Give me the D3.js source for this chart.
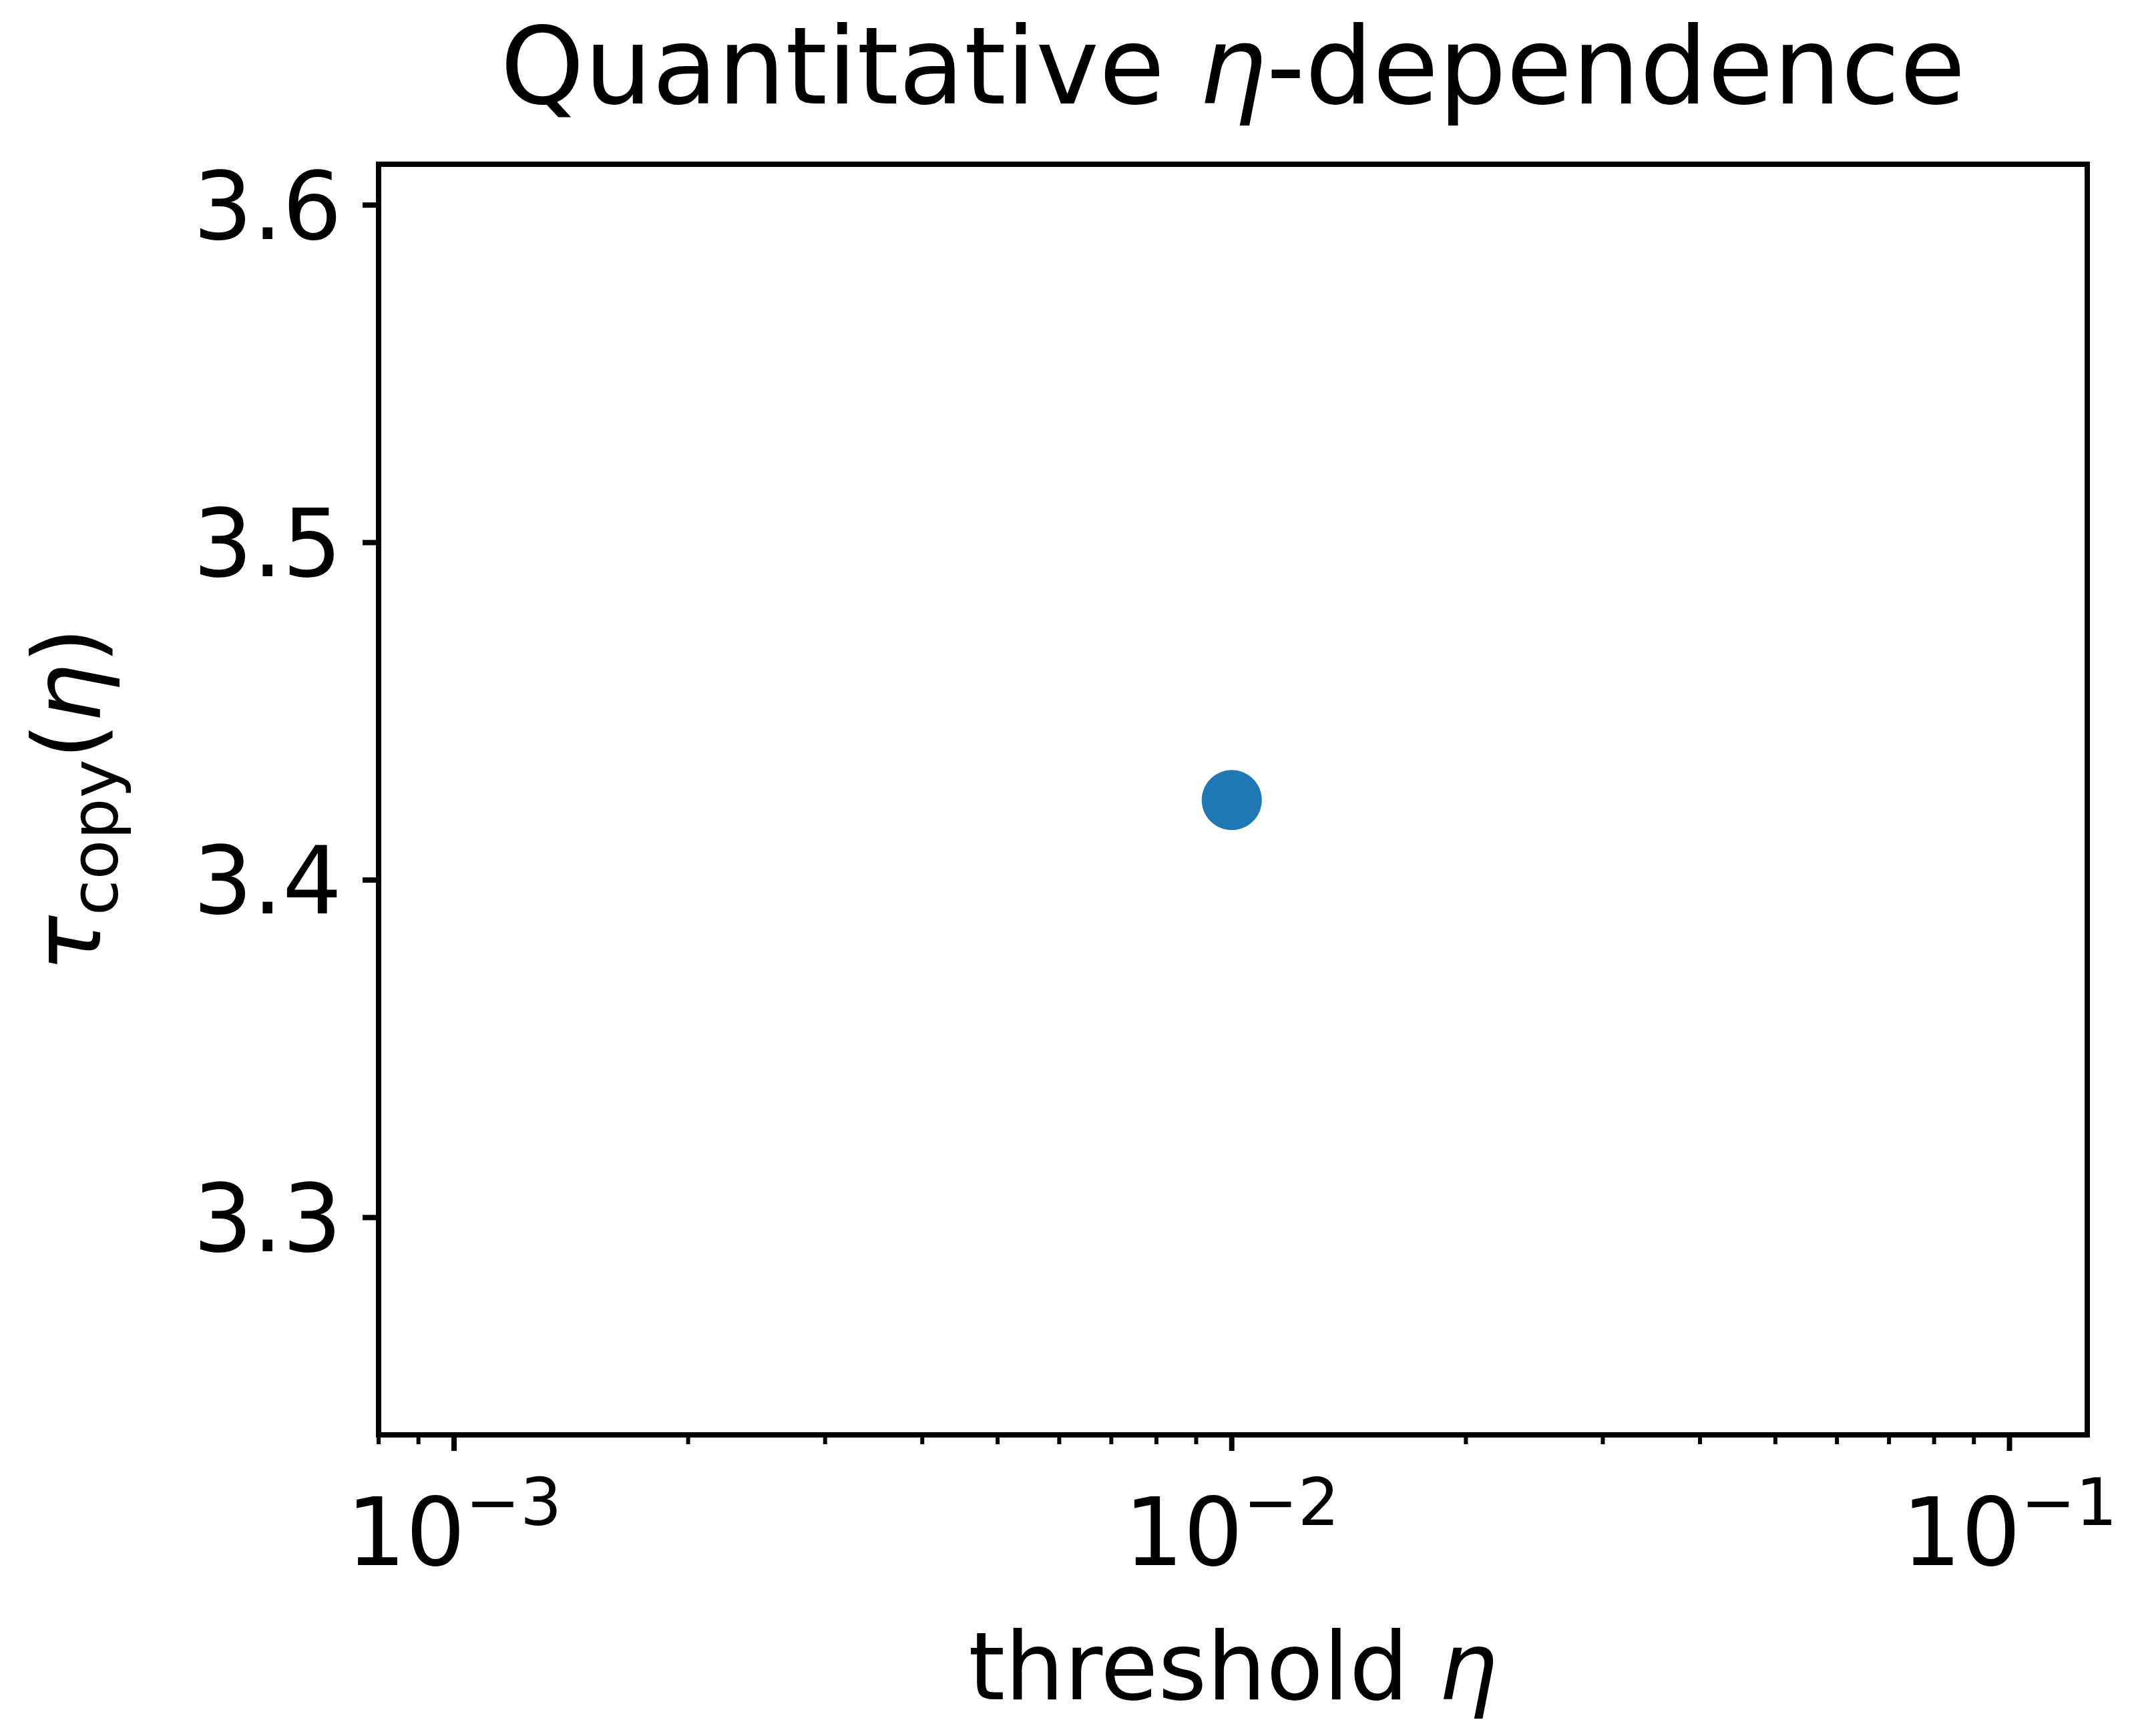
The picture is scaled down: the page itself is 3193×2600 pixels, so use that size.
<!DOCTYPE html>
<html>
<head>
<meta charset="utf-8">
<script src="https://cdn.jsdelivr.net/npm/d3@7"></script>
<style>
  body { margin: 0; background: #fff; }
  text { font-family: "DejaVu Sans", sans-serif; fill: #000; }
</style>
</head>
<body>
<div id="chart"></div>
<script>
const WIDTH = 3193;
const HEIGHT = 2600;
const MARGIN = { left: 567, right: 3193 - 3126, top: 246, bottom: 2600 - 2149 };

const etaValues = [0.01];
const tauValues = [3.4237];
const yTicks = [3.3, 3.4, 3.5, 3.6];
const xMajorExps = [-3, -2, -1];
const X_DOMAIN = [Math.pow(10, -3.097), Math.pow(10, -0.9)];
const Y_DOMAIN = [3.2356, 3.6121];

const TICK_FONT = 140;
const MAJOR_TICK = 24;
const MINOR_TICK = 14;
const STROKE = 8;

const svg = d3.select("#chart").append("svg")
  .attr("width", WIDTH).attr("height", HEIGHT);

const x = d3.scaleLog().domain(X_DOMAIN).range([MARGIN.left, WIDTH - MARGIN.right]);
const y = d3.scaleLinear().domain(Y_DOMAIN).range([HEIGHT - MARGIN.bottom, MARGIN.top]);

// minor ticks for log axis
let minor = [];
for (let e = -4; e <= -1; e++) {
  for (let m = 2; m <= 9; m++) {
    const v = m * Math.pow(10, e);
    if (v >= X_DOMAIN[0] && v <= X_DOMAIN[1]) minor.push(v);
  }
}

const bottom = HEIGHT - MARGIN.bottom;
svg.selectAll("line.minor").data(minor).enter().append("line")
  .attr("x1", d => x(d)).attr("x2", d => x(d))
  .attr("y1", bottom).attr("y2", bottom + MINOR_TICK)
  .attr("stroke", "#000").attr("stroke-width", 6);

const majors = xMajorExps.map(e => Math.pow(10, e));
svg.selectAll("line.major").data(majors).enter().append("line")
  .attr("x1", d => x(d)).attr("x2", d => x(d))
  .attr("y1", bottom).attr("y2", bottom + MAJOR_TICK)
  .attr("stroke", "#000").attr("stroke-width", STROKE);

const xl = svg.selectAll("text.xl").data(xMajorExps).enter().append("text")
  .attr("x", e => x(Math.pow(10, e)))
  .attr("y", bottom + 195)
  .attr("text-anchor", "middle")
  .style("font-size", TICK_FONT + "px");
xl.append("tspan").text("10");
xl.append("tspan").attr("dy", -60).style("font-size", "98px").text(e => "\u2212" + Math.abs(e));

// y axis
svg.selectAll("line.yt").data(yTicks).enter().append("line")
  .attr("x1", MARGIN.left - MAJOR_TICK).attr("x2", MARGIN.left)
  .attr("y1", d => y(d)).attr("y2", d => y(d))
  .attr("stroke", "#000").attr("stroke-width", STROKE);

svg.selectAll("text.yl").data(yTicks).enter().append("text")
  .attr("x", MARGIN.left - 55)
  .attr("y", d => y(d))
  .attr("dy", "0.36em")
  .attr("text-anchor", "end")
  .style("font-size", TICK_FONT + "px")
  .text(d => d.toFixed(1));

// frame
svg.append("rect")
  .attr("x", MARGIN.left).attr("y", MARGIN.top)
  .attr("width", WIDTH - MARGIN.left - MARGIN.right)
  .attr("height", HEIGHT - MARGIN.top - MARGIN.bottom)
  .attr("fill", "none").attr("stroke", "#000").attr("stroke-width", STROKE);

// data
svg.selectAll("circle").data(etaValues).enter().append("circle")
  .attr("cx", d => x(d))
  .attr("cy", (d, i) => y(tauValues[i]))
  .attr("r", 45)
  .attr("fill", "#1f77b4");

// title
const title = svg.append("text")
  .attr("x", (MARGIN.left + WIDTH - MARGIN.right) / 2)
  .attr("y", 155)
  .attr("text-anchor", "middle")
  .style("font-size", "160px");
title.append("tspan").text("Quantitative ");
title.append("tspan").style("font-style", "italic").text("η");
title.append("tspan").text("-dependence");

// x label
const xlab = svg.append("text")
  .attr("x", (MARGIN.left + WIDTH - MARGIN.right) / 2)
  .attr("y", 2545)
  .attr("text-anchor", "middle")
  .style("font-size", "140px");
xlab.append("tspan").text("threshold ");
xlab.append("tspan").style("font-style", "italic").text("η");

// y label
const ylab = svg.append("text")
  .attr("transform", `translate(150, ${(MARGIN.top + bottom) / 2}) rotate(-90)`)
  .attr("text-anchor", "middle")
  .style("font-size", "140px");
ylab.append("tspan").style("font-style", "italic").text("τ");
ylab.append("tspan").attr("dy", 26).style("font-size", "98px").text("copy");
ylab.append("tspan").attr("dy", -26).text("(");
ylab.append("tspan").style("font-style", "italic").text("η");
ylab.append("tspan").text(")");
</script>
</body>
</html>
